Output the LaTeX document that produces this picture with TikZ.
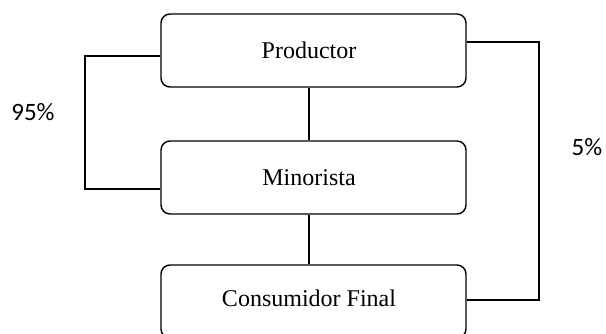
\documentclass[tikz,border=0pt]{standalone}
\usepackage{fontspec}
\setmainfont{Liberation Serif}
\newfontfamily\pctfont{Carlito}
\begin{document}
\begin{tikzpicture}[x=1pt,y=-1pt,
  boxnode/.style={draw=black, line width=1.4pt, rounded corners=9pt, minimum width=305pt, minimum height=73pt, inner sep=0pt},
  boxtext/.style={inner sep=0pt, font=\fontsize{24}{28}\selectfont},
  conn/.style={draw=black, line width=2.6pt},
  pct/.style={font=\pctfont\fontsize{25}{30}\selectfont, inner sep=0pt}]
\clip (0,0) rectangle (606,334);
\fill[white] (0,0) rectangle (606,334);
\node[boxnode] (prod) at (313.5,50.5) {};
\node[boxtext] (prodt) at (309,50) {Productor};
\node[boxnode] (mino) at (313.5,177.5) {};
\node[boxtext] (minot) at (309,178) {Minorista};
\node[boxnode] (cons) at (313.5,301.5) {};
\node[boxtext] (const) at (309,298) {Consumidor Final};
\coordinate (l1) at (85,56);
\coordinate (l2) at (85,189);
\coordinate (r1) at (539,42);
\coordinate (r2) at (539,300);
\draw[conn] (prod.west |- l1) -- (l1) -- (l2) -- (mino.west |- l2);
\draw[conn] (prod.east |- r1) -- (r1) -- (r2) -- (cons.east |- r2);
\draw[conn] (prod.south -| prodt) -- (mino.north -| prodt);
\draw[conn] (mino.south -| prodt) -- (cons.north -| prodt);
\node[pct] (p95) at (33,112) {95\%};
\node[pct] (p5) at (587,147) {5\%};
\end{tikzpicture}
\end{document}
